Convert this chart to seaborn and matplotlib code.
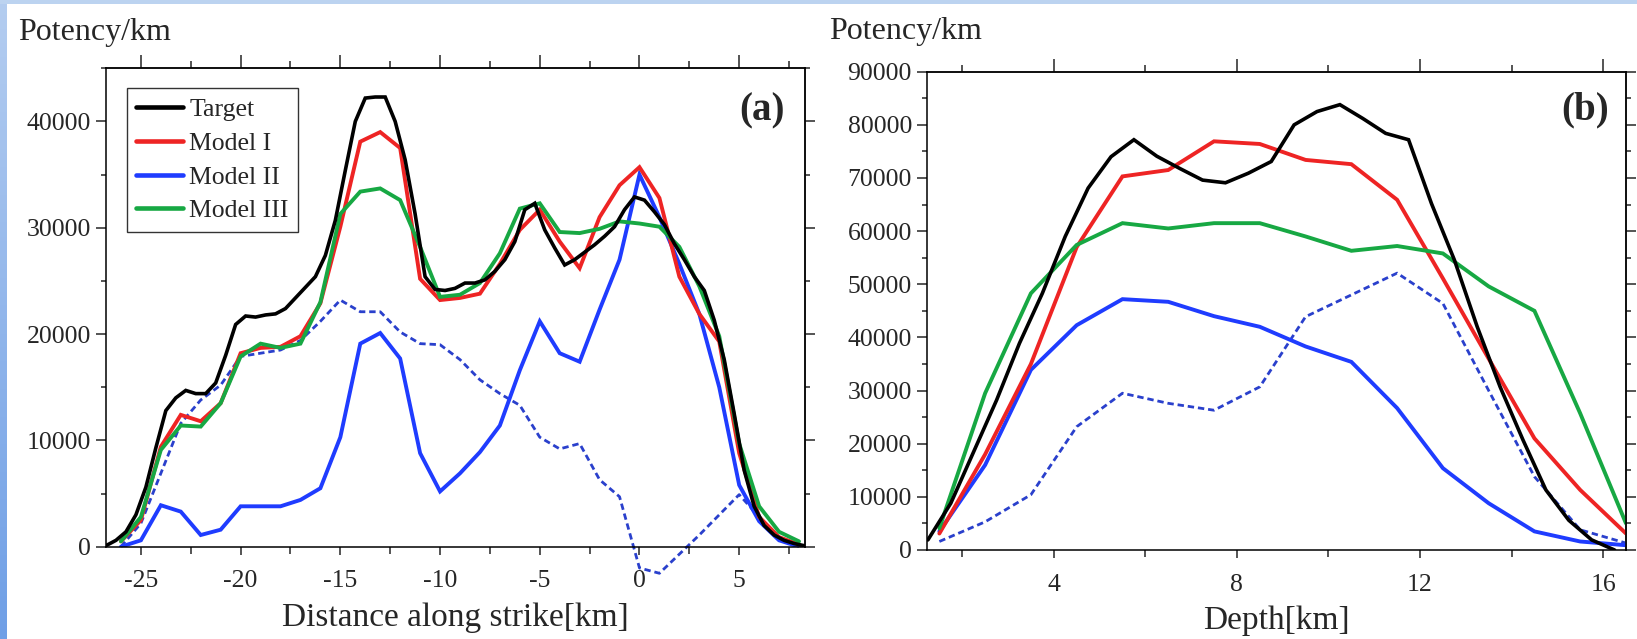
import numpy as np
import pandas as pd
import matplotlib
matplotlib.use("Agg")
import matplotlib.pyplot as plt
from matplotlib.lines import Line2D
from matplotlib.ticker import MultipleLocator, NullFormatter, FixedLocator
from matplotlib.colors import LinearSegmentedColormap
import seaborn as sns

# ---------------- data (values in thousands of potency/km) ----------------
# Panel (a): distance along strike [km]
a_target_x = np.arange(-26.75, 8.26, 0.5)
a_target_k = [0.1, 0.6, 1.4, 3.0, 5.6, 9.3, 12.8, 14.0, 14.7, 14.4, 14.4, 15.4,
              18.0, 20.9, 21.7, 21.6, 21.8, 21.9, 22.4, 23.4, 24.4, 25.4, 27.4,
              30.7, 35.4, 40.0, 42.2, 42.3, 42.3, 40.0, 36.4, 31.3, 25.4, 24.2,
              24.1, 24.3, 24.8, 24.8, 25.1, 25.9, 27.0, 28.7, 31.7, 32.3, 29.8,
              28.1, 26.5, 27.0, 27.7, 28.4, 29.2, 30.1, 31.7, 32.9, 32.6, 31.5,
              30.3, 28.5, 27.0, 25.4, 24.1, 21.3, 17.6, 12.5, 7.2, 3.8, 2.0,
              1.1, 0.6, 0.3, 0.1]
a_model_x = np.arange(-26, 9, 1)
a_model1_k = [0.5, 2.5, 9.4, 12.4, 11.8, 13.5, 18.2, 18.7, 18.8, 19.8, 22.9, 30.1,
              38.1, 39.0, 37.5, 25.2, 23.2, 23.4, 23.8, 26.6, 29.8, 31.7, 28.7,
              26.2, 31.0, 34.0, 35.7, 32.8, 25.4, 21.9, 19.3, 8.8, 2.8, 0.9, 0.2]
a_model2_k = [0.0, 0.6, 3.9, 3.3, 1.1, 1.6, 3.8, 3.8, 3.8, 4.4, 5.5, 10.3,
              19.1, 20.1, 17.7, 8.8, 5.2, 6.9, 8.9, 11.4, 16.6, 21.2, 18.2,
              17.4, 22.3, 27.0, 35.0, 31.0, 26.6, 21.9, 15.0, 5.8, 2.4, 0.6, 0.0]
a_model3_k = [0.5, 2.8, 9.1, 11.4, 11.3, 13.5, 17.9, 19.1, 18.7, 19.1, 23.0, 31.3,
              33.4, 33.7, 32.6, 28.2, 23.5, 23.7, 24.8, 27.6, 31.8, 32.3, 29.6,
              29.5, 29.9, 30.6, 30.4, 30.1, 28.2, 24.5, 19.8, 9.7, 3.8, 1.4, 0.5]
a_dashed_k = [0.0, 2.2, 6.9, 11.6, 13.8, 15.2, 17.9, 18.2, 18.5, 19.4, 21.2, 23.2,
              22.1, 22.1, 20.2, 19.1, 19.0, 17.6, 15.7, 14.4, 13.3, 10.3, 9.2,
              9.7, 6.3, 4.7, -2.0, -2.5, -0.7, 1.1, 3.0, 4.9, 2.8, 0.9, 0.0]

# Panel (b): depth [km]
b_target_x = np.arange(1.25, 16.26, 0.5)
b_target_k = [1.9, 8.8, 18.5, 28.2, 38.9, 48.3, 59.0, 68.1, 74.0, 77.2, 74.1,
              71.8, 69.6, 69.1, 70.9, 73.1, 80.0, 82.5, 83.8, 81.2, 78.4, 77.2,
              65.2, 54.6, 42.0, 30.7, 20.7, 11.3, 5.6, 1.9, 0.0]
b_model_x = np.arange(1.5, 16.6, 1)
b_model1_k = [3.1, 18.0, 35.0, 57.0, 70.3, 71.5, 76.9, 76.4, 73.4, 72.6, 65.9,
              51.1, 36.0, 21.0, 11.3, 3.1]
b_model2_k = [3.5, 16.0, 33.9, 42.3, 47.2, 46.7, 44.0, 42.0, 38.3, 35.4, 26.7,
              15.4, 8.8, 3.5, 1.6, 0.9]
b_model3_k = [4.1, 29.5, 48.3, 57.4, 61.5, 60.5, 61.5, 61.5, 59.0, 56.3, 57.2,
              55.8, 49.6, 45.0, 25.7, 5.0]
b_dotted_k = [1.6, 5.3, 10.4, 23.2, 29.5, 27.6, 26.3, 30.7, 43.9, 48.0, 52.1,
              46.4, 30.0, 13.8, 3.8, 1.3]

labels = ["Target", "Model I", "Model II", "Model III"]
a_xticks = [-25, -20, -15, -10, -5, 0, 5]
b_xticks = [4, 8, 12, 16]
a_yticks = [0, 10000, 20000, 30000, 40000]
b_yticks = [0, 10000, 20000, 30000, 40000, 50000, 60000, 70000, 80000, 90000]

# ---------------- style ----------------
sns.set_style("ticks")
plt.rcParams["font.family"] = ["Liberation Serif", "DejaVu Serif"]
plt.rcParams["axes.unicode_minus"] = False

C_BLACK = "#000000"
C_RED = "#ee2424"
C_BLUE = "#1f3cff"
C_GREEN = "#17a843"
C_DASH = "#2a40cc"
LW = 2.8

W, H = 1637, 639
fig = plt.figure(figsize=(W / 100, H / 100), dpi=100)
fig.patch.set_facecolor("white")

# slide-like background strips
bg_left = fig.add_axes([0, 0, 7 / W, 1])
grad = np.linspace(0, 1, 256).reshape(-1, 1)
cm = LinearSegmentedColormap.from_list("bg", ["#b4cdf0", "#6f9fe6"])
bg_left.imshow(grad, aspect="auto", cmap=cm, extent=[0, 1, 1, 0])
bg_left.axis("off")
bg_top = fig.add_axes([0, 1 - 4 / H, 1, 4 / H])
bg_top.set_facecolor("#bcd3f0")
bg_top.set_xticks([]); bg_top.set_yticks([])
for s in bg_top.spines.values():
    s.set_visible(False)

axA = fig.add_axes([106 / W, (H - 546.7) / H, 699 / W, 478.4 / H])
axB = fig.add_axes([927 / W, (H - 550) / H, 699 / W, 478.3 / H])

TICK_FS = 18.5


def style_axes(ax, xmaj, xmin_step, ymaj, xlim, ylim):
    ax.set_xlim(*xlim)
    ax.set_ylim(*ylim)
    ax.xaxis.set_major_locator(FixedLocator(xmaj))
    ax.xaxis.set_minor_locator(MultipleLocator(xmin_step))
    ax.yaxis.set_major_locator(FixedLocator(ymaj))
    ax.yaxis.set_minor_locator(MultipleLocator(5000))
    for s in ax.spines.values():
        s.set_visible(True)
        s.set_linewidth(1.1)
        s.set_color("black")
    ax.tick_params(axis="x", which="major", direction="out", length=6, width=1.1,
                   pad=11, labelsize=TICK_FS, top=False, bottom=True)
    ax.tick_params(axis="x", which="minor", direction="out", length=5, width=1.1,
                   top=False, bottom=True)
    ax.tick_params(axis="y", which="major", direction="out", length=7.5, width=1.1,
                   pad=3.3, labelsize=TICK_FS, right=False, left=True)
    ax.tick_params(axis="y", which="minor", direction="out", length=3.8, width=1.1,
                   right=False, left=True)
    sx = ax.secondary_xaxis("top")
    sx.xaxis.set_major_locator(FixedLocator(xmaj))
    sx.xaxis.set_minor_locator(MultipleLocator(xmin_step))
    sx.xaxis.set_major_formatter(NullFormatter())
    sx.tick_params(which="major", direction="out", length=9.5, width=1.1)
    sx.tick_params(which="minor", direction="out", length=4.8, width=1.1)
    sx.spines["top"].set_linewidth(1.1)
    sy = ax.secondary_yaxis("right")
    sy.yaxis.set_major_locator(FixedLocator(ymaj))
    sy.yaxis.set_minor_locator(MultipleLocator(5000))
    sy.yaxis.set_major_formatter(NullFormatter())
    sy.tick_params(which="major", direction="out", length=7.5, width=1.1)
    sy.tick_params(which="minor", direction="out", length=3.8, width=1.1)
    sy.spines["right"].set_linewidth(1.1)


def draw(ax, x, k, color, lw=LW, dashed=False, clip=True):
    y = np.asarray(k) * 1000.0
    sns.lineplot(x=x, y=y, ax=ax, color=color, lw=lw, estimator=None,
                 sort=False, legend=False, clip_on=clip)
    ln = ax.lines[-1]
    ln.set_solid_joinstyle("miter")
    if dashed:
        ln.set_linestyle((0, (2.3, 1.4)))


# ----- panel (a) -----
draw(axA, a_model_x, a_dashed_k, C_DASH, lw=2.0, dashed=True, clip=False)
draw(axA, a_model_x, a_model2_k, C_BLUE)
draw(axA, a_model_x, a_model1_k, C_RED)
draw(axA, a_model_x, a_model3_k, C_GREEN)
draw(axA, a_target_x, a_target_k, C_BLACK, lw=2.6)
style_axes(axA, a_xticks, 2.5, a_yticks, (-26.75, 8.3), (0, 45000))
axA.set_xlabel("Distance along strike[km]", fontsize=24, labelpad=7)
axA.set_ylabel("")
axA.text(0.971, 0.911, "(a)", transform=axA.transAxes, ha="right", va="center",
         fontsize=28, fontweight="bold")

handles = [Line2D([], [], color=c, lw=3.3) for c in (C_BLACK, C_RED, C_BLUE, C_GREEN)]
leg = axA.legend(handles, labels, loc="upper left", bbox_to_anchor=(0.0296, 0.958),
                 borderaxespad=0, fancybox=False, framealpha=1, edgecolor="#333333",
                 fontsize=TICK_FS, handlelength=1.8, handletextpad=0.25,
                 labelspacing=0.42, borderpad=0.38)
leg.get_frame().set_linewidth(1.0)

# ----- panel (b) -----
draw(axB, b_model_x, b_dotted_k, C_DASH, lw=2.0, dashed=True)
draw(axB, b_model_x, b_model2_k, C_BLUE)
draw(axB, b_model_x, b_model1_k, C_RED)
draw(axB, b_model_x, b_model3_k, C_GREEN)
draw(axB, b_target_x, b_target_k, C_BLACK, lw=2.6)
style_axes(axB, b_xticks, 2, b_yticks, (1.23, 16.5), (0, 90000))
axB.set_xlabel("Depth[km]", fontsize=24, labelpad=7)
axB.set_ylabel("")
axB.text(0.976, 0.921, "(b)", transform=axB.transAxes, ha="right", va="center",
         fontsize=28, fontweight="bold")

fig.text(18 / W, 1 - 40 / H, "Potency/km", fontsize=23, ha="left", va="baseline")
fig.text(829 / W, 1 - 38.5 / H, "Potency/km", fontsize=23, ha="left", va="baseline")

fig.savefig("out.png", dpi=100, facecolor="white")
